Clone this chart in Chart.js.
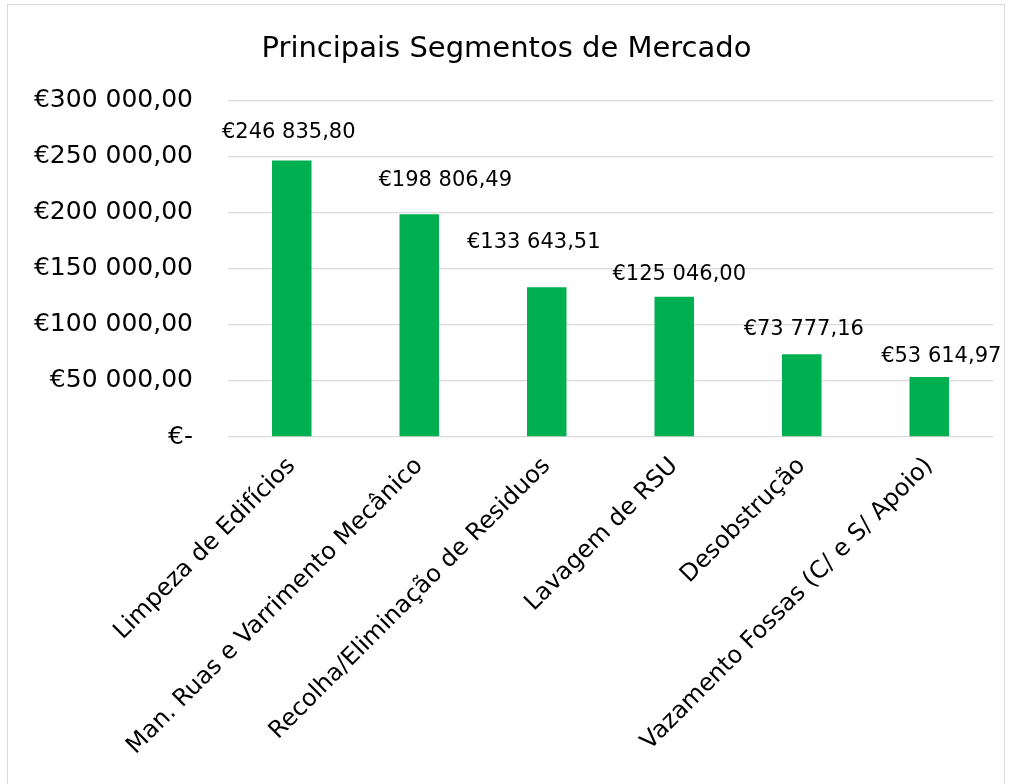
<!DOCTYPE html>
<html>
<head>
<meta charset="utf-8">
<script src="https://cdn.jsdelivr.net/npm/chart.js@4/dist/chart.umd.min.js"></script>
<style>
  html, body { margin: 0; padding: 0; background: #fff; overflow: hidden; }
  #frame { position: absolute; left: 7px; top: 4px; width: 998px; height: 800px; border: 1px solid #d9d9d9; box-sizing: border-box; }
  #wrap { position: absolute; left: 0; top: 0; width: 1011px; height: 784px; }
</style>
</head>
<body>
<div id="frame"></div>
<div id="wrap"><canvas id="chart"></canvas></div>
<script>
// dados do gráfico
const categorias = [
  'Limpeza de Edifícios',
  'Man. Ruas e Varrimento Mecânico',
  'Recolha/Eliminação de Residuos',
  'Lavagem de RSU',
  'Desobstrução',
  'Vazamento Fossas (C/ e S/ Apoio)'
];
const valores = [246835.80, 198806.49, 133643.51, 125046.00, 73777.16, 53614.97];
const titulo = 'Principais Segmentos de Mercado';

// formato euro: €246 835,80
const euro = (v) => {
  if (v === 0) return '€-';
  const [int, dec] = v.toFixed(2).split('.');
  return '€' + int.replace(/\B(?=(\d{3})+(?!\d))/g, ' ') + ',' + dec;
};

const FONT = '"DejaVu Sans", sans-serif';

// rótulos de dados por cima das barras (com pequenos ajustes como no Excel)
const rotulos = {
  id: 'rotulos',
  afterDatasetsDraw(chart, args, opts) {
    const ctx = chart.ctx;
    const meta = chart.getDatasetMeta(0);
    ctx.save();
    ctx.font = opts.size + 'px ' + FONT;
    ctx.fillStyle = '#000';
    ctx.textAlign = 'center';
    ctx.textBaseline = 'middle';
    meta.data.forEach((bar, i) => {
      const s = opts.shift[i] || [0, 0];
      ctx.fillText(euro(valores[i]), bar.x + s[0], bar.y + s[1]);
    });
    ctx.restore();
  }
};

new Chart(document.getElementById('chart'), {
  type: 'bar',
  data: {
    labels: categorias,
    datasets: [{
      data: valores,
      backgroundColor: '#00B050',
      barPercentage: 0.31,
      categoryPercentage: 1
    }]
  },
  plugins: [rotulos],
  options: {
    responsive: true,
    maintainAspectRatio: false,
    animation: false,
    layout: { padding: { left: 20, right: 18, top: 0, bottom: 0 } },
    plugins: {
      legend: { display: false },
      tooltip: { enabled: false },
      title: {
        display: true,
        text: titulo,
        color: '#000',
        font: { family: FONT, size: 29, weight: 'normal' },
        padding: { top: 32, bottom: 34 }
      },
      rotulos: {
        size: 21,
        shift: [[-3, -28], [26, -34], [-13, -45], [5, -22], [2, -25], [12, -20]]
      }
    },
    scales: {
      x: {
        grid: { display: false },
        border: { display: false },
        ticks: {
          color: '#000',
          font: { family: FONT, size: 24 },
          maxRotation: 45,
          minRotation: 45,
          padding: 7,
          autoSkip: false
        },
        afterFit(scale) { scale.height = 347; }
      },
      y: {
        min: 0,
        max: 300000,
        grid: { color: '#d9d9d9', lineWidth: 1.3, drawTicks: false },
        border: { display: false },
        ticks: {
          stepSize: 50000,
          color: '#000',
          font: { family: FONT, size: 25 },
          padding: 35,
          callback: (v) => euro(v)
        },
        afterFit(scale) { scale.width = 208; }
      }
    }
  }
});
</script>
</body>
</html>
